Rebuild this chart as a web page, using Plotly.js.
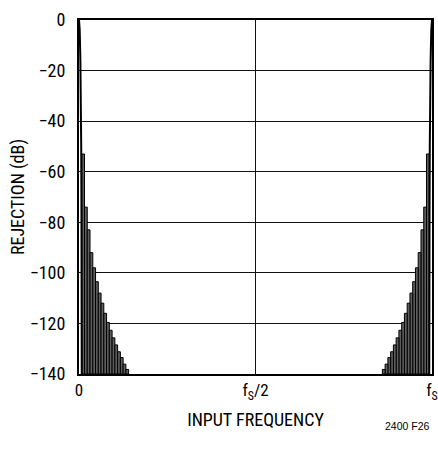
<!DOCTYPE html>
<html>
<head>
<meta charset="utf-8">
<script src="https://cdn.plot.ly/plotly-3.0.1.min.js"></script>
<style>html,body{margin:0;padding:0;background:#fff;}#chart{width:438px;height:454px;}</style>
</head>
<body>
<div id="chart"></div>
<script>
// Input frequency in units of fs; rejection in dB
const floorDb = -140;

// Main lobe near 0 (falls from 0 dB to the floor)
const mainLeftFreq = [0, 0.0020, 0.0039, 0.0055, 0.0063, 0.0070, 0.0074, 0.0077, 0.0078];
const mainLeftDb   = [0, -4, -16, -34, -50, -77, -103, -135, -140];

// Main lobe near fs
const mainRightFreq = [1, 0.9980, 0.9961, 0.9945, 0.9937, 0.9930, 0.9926, 0.9923, 0.9922];
const mainRightDb   = [0, -4, -16, -34, -50, -77, -103, -135, -140];

// Side lobes near 0 (centre frequency, peak level)
const lobeLeftFreq = [0.0117, 0.0195, 0.0273, 0.0352, 0.0430, 0.0508, 0.0586, 0.0664, 0.0742,
                      0.0820, 0.0898, 0.0977, 0.1055, 0.1133, 0.1211, 0.1289, 0.1367];
const lobeLeftDb   = [-53, -74, -83, -92, -98, -103.5, -108, -112, -116,
                      -119.6, -122.7, -125.7, -128.5, -131.2, -133.5, -136.1, -138.2];

// Side lobes near fs
const lobeRightFreq = [0.9883, 0.9805, 0.9727, 0.9648, 0.9570, 0.9492, 0.9414, 0.9336, 0.9258,
                       0.9180, 0.9102, 0.9023, 0.8945, 0.8867, 0.8789, 0.8711, 0.8633];
const lobeRightDb   = [-53, -74, -83, -92, -98, -103.5, -108, -112, -116,
                       -119.6, -122.7, -125.7, -128.5, -131.2, -133.5, -136.1, -138.2];

const lobeWidth = 0.0078;

const tickVals = [0, 0.5, 1];
const tickText = ['0', 'f<sub>S</sub>/2', 'f<sub>S</sub>'];
const yTickVals = [0, -20, -40, -60, -80, -100, -120, -140];
const yTickText = ['0', '\u221220', '\u221240', '\u221260', '\u221280', '\u2212100', '\u2212120', '\u2212140'];

const FONT = 'Roboto Condensed, Liberation Sans Narrow, Arial Narrow, Liberation Sans, Arial, sans-serif';

function lobeTrace(fr, db) {
  return {
    type: 'bar', x: fr, y: db.map(v => v - floorDb), base: floorDb,
    width: lobeWidth,
    marker: {color: '#5e5e5e', line: {color: '#000', width: 1}},
    hoverinfo: 'skip', showlegend: false
  };
}
function mainTrace(fr, db) {
  return {
    type: 'scatter', mode: 'lines', x: fr, y: db,
    line: {color: '#000', width: 2}, hoverinfo: 'skip', showlegend: false
  };
}

const data = [
  lobeTrace(lobeLeftFreq, lobeLeftDb),
  lobeTrace(lobeRightFreq, lobeRightDb),
  mainTrace(mainLeftFreq, mainLeftDb),
  mainTrace(mainRightFreq, mainRightDb)
];

const layout = {
  width: 438, height: 454,
  margin: {l: 79, r: 6, t: 20, b: 80},
  paper_bgcolor: '#fff', plot_bgcolor: '#fff',
  font: {family: FONT, color: '#000', size: 18},
  bargap: 0,
  xaxis: {
    range: [0, 1], tickvals: tickVals, ticktext: tickText,
    showgrid: true, gridcolor: '#111', gridwidth: 1,
    showline: true, linecolor: '#000', linewidth: 2, mirror: true,
    ticks: '', zeroline: false, fixedrange: true,
    tickfont: {family: FONT, size: 17},
    title: {text: 'INPUT FREQUENCY', font: {family: FONT, size: 18}, standoff: 11}
  },
  yaxis: {
    range: [-140, 0], tickvals: yTickVals, ticktext: yTickText,
    showgrid: true, gridcolor: '#111', gridwidth: 1,
    showline: true, linecolor: '#000', linewidth: 2, mirror: true,
    ticks: '', zeroline: false, fixedrange: true, ticklabelstandoff: 8,
    tickfont: {family: FONT, size: 18},
    title: {text: 'REJECTION (dB)', font: {family: FONT, size: 18}, standoff: 0}
  },
  annotations: [{
    text: '2400 F26', xref: 'paper', yref: 'paper', x: 1, y: -0.125,
    xanchor: 'right', yanchor: 'top', showarrow: false,
    font: {family: 'Liberation Sans, Arial, sans-serif', size: 10.5, color: '#000'}
  }]
};

Plotly.newPlot('chart', data, layout, {displayModeBar: false, staticPlot: true});
</script>
</body>
</html>
